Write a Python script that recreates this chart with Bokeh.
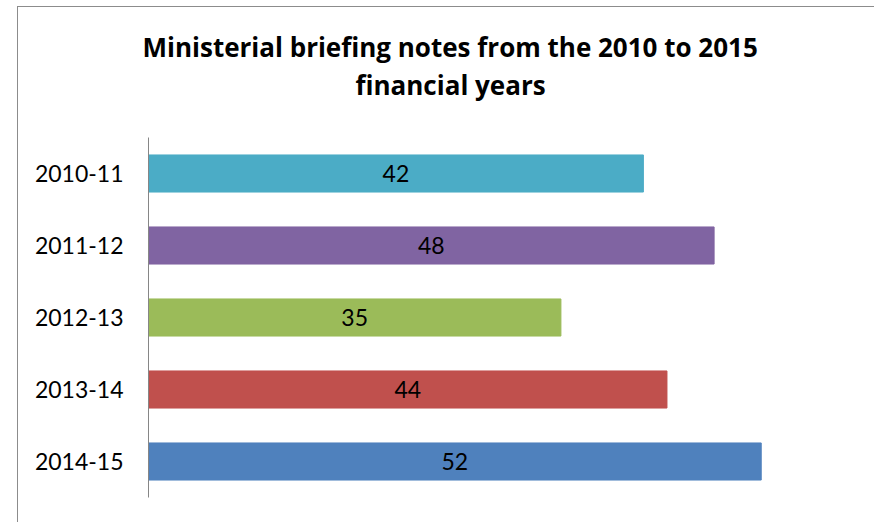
from bokeh.plotting import figure
from bokeh.models import ColumnDataSource, Range1d, FactorRange, LabelSet, Title, InlineStyleSheet
from bokeh.core.properties import value
from bokeh.embed import file_html
from bokeh.resources import INLINE

years = ["2010-11", "2011-12", "2012-13", "2013-14", "2014-15"]
notes = [42, 48, 35, 44, 52]
colors = ["#4BACC6", "#8064A2", "#9BBB59", "#C0504D", "#4F81BD"]
title_lines = ["Ministerial briefing notes from the 2010 to 2015", "financial years"]

src = ColumnDataSource(dict(
    year=years,
    notes=notes,
    mid=[v / 2 for v in notes],
    label=[str(v) for v in notes],
    color=colors,
))

p = figure(
    width=874, height=522,
    y_range=FactorRange(factors=list(reversed(years)), range_padding=0),
    x_range=Range1d(0, 60),
    x_axis_location=None,
    output_backend="svg", toolbar_location=None,
    min_border_left=148, min_border_right=19, min_border_bottom=25, min_border_top=137,
)
p.outline_line_color = None
p.background_fill_color = "white"
p.border_fill_color = "white"
p.xgrid.visible = False
p.ygrid.visible = False

p.hbar(y="year", left=0, right="notes", height=0.515, color="color", source=src)

labels = LabelSet(x="mid", y="year", text="label", source=src,
                  text_align="center", text_baseline="middle",
                  text_font=value("Lato"), text_font_size="23px", text_color="#000000")
p.add_layout(labels)

ax = p.yaxis[0]
ax.axis_line_color = "#868686"
ax.axis_line_width = 1
ax.major_tick_line_color = None
ax.minor_tick_line_color = None
ax.major_label_text_font = "Lato"
ax.major_label_text_font_size = "23px"
ax.major_label_text_color = "#000000"
ax.major_label_standoff = 19

spacer = Title(text=" ", standoff=22, text_font_size="10px")
t2 = Title(text=title_lines[1], align="left", offset=207, standoff=0,
           text_font="Open Sans", text_font_size="26px", text_font_style="bold", text_color="#000000")
t1 = Title(text=title_lines[0], align="left", offset=-6, standoff=0,
           text_font="Open Sans", text_font_size="26px", text_font_style="bold", text_color="#000000")
p.add_layout(spacer, "above")
p.add_layout(t2, "above")
p.add_layout(t1, "above")

p.stylesheets = [InlineStyleSheet(css=(
    ":host::after { content: ''; position: absolute; left: 17px; top: 6px; "
    "width: 857px; height: 516px; border-left: 1.5px solid #8c8c8c; border-top: 1.5px solid #8c8c8c; "
    "box-sizing: border-box; pointer-events: none; z-index: 100; }"
))]

open("out.html", "w").write(file_html(p, INLINE))
